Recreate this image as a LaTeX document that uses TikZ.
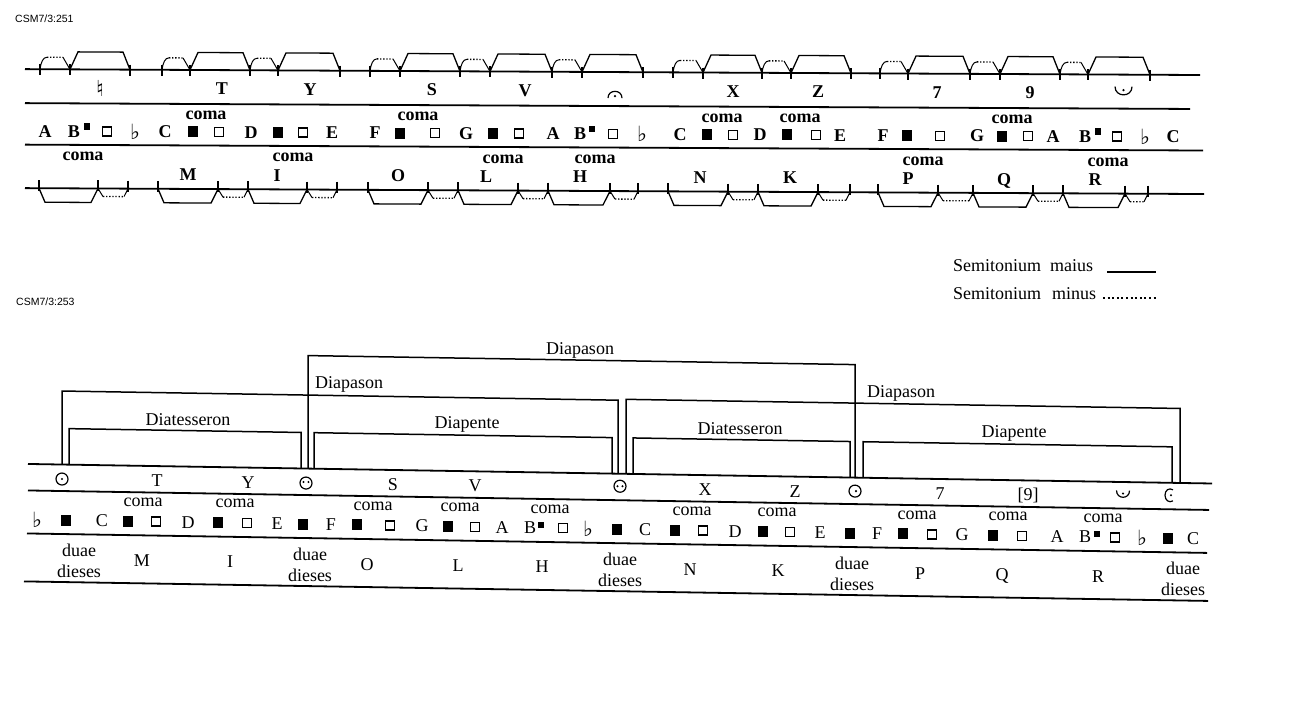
\documentclass[tikz,border=0pt]{standalone}
\usepackage{fontspec}
\setmainfont{Liberation Serif}
\newfontfamily\symfnt{DejaVu Sans}
\newfontfamily\tagfnt{Liberation Sans}
\tikzset{
  rulel/.style={line width=1.8pt},
  tickl/.style={line width=1.5pt},
  majl/.style={line width=1.3pt},
  sidel/.style={line width=1pt},
  minl/.style={line width=1.3pt, dash pattern=on 1.3pt off 1.8pt},
  brk/.style={line width=1.5pt},
  lettr/.style={inner sep=0pt, font=\fontsize{18}{20}\selectfont, text height=12pt, text depth=0pt},
  lettrb/.style={inner sep=0pt, font=\bfseries\fontsize{18}{20}\selectfont, text height=12pt, text depth=0pt},
  comal/.style={inner sep=0pt, font=\fontsize{18}{20}\selectfont, text height=8pt, text depth=0pt},
  comab/.style={inner sep=0pt, font=\bfseries\fontsize{18}{20}\selectfont, text height=8pt, text depth=0pt},
  fsq/.style={fill=black, inner sep=0pt, minimum width=10.5pt, minimum height=11pt},
  osq/.style={draw, line width=1.3pt, inner sep=0pt, minimum size=9pt},
  ssq/.style={fill=black, inner sep=0pt, minimum width=5.5pt, minimum height=6.5pt},
  flat/.style={inner sep=0pt, font=\symfnt\fontsize{21}{22}\selectfont},
  sym/.style={line width=1.2pt},
  tagl/.style={inner sep=0pt, anchor=west, font=\tagfnt\fontsize{10.5}{12}\selectfont},
}
\begin{document}
\begin{tikzpicture}[x=1pt,y=-1pt]
\useasboundingbox (0,0) rectangle (1296,720);
\node[tagl] (tag1) at (15,19) {CSM7/3:251};
\node[tagl] (tag2) at (16,302) {CSM7/3:253};

%================ TOP DIAGRAM =================
\begin{scope}[cm={1,-0.005,0,1,(0,0)}]
\coordinate (ra1) at (25,69);    \coordinate (rb1) at (1200,69);
\coordinate (ra2) at (25,103);   \coordinate (rb2) at (1190,103);
\coordinate (ra3) at (25,144.5); \coordinate (rb3) at (1203,144.5);
\coordinate (ra4) at (25,188);   \coordinate (rb4) at (1204,188);
\foreach \k in {1,...,4} \draw[rulel] (ra\k) -- (rb\k);
% semitonium maius above
\foreach \a/\b in {70/130,190/250,278/340,400/460,490/552,582/643,703/762,791/851,908/970,1000/1060,1088/1150}
  \draw[majl] (\a,69) -- (\a+8,51.5) -- (\b-7,51.5) -- (\b,69);
% semitonium minus above
\foreach \a/\b in {40/70,162/190,250/278,370/400,460/490,552/582,673/703,762/791,880/908,970/1000,1060/1088}
  {\draw[sidel] (\a,69) .. controls (\a+1,62) and (\a+3,57) .. (\a+7,57);
   \draw[minl] (\a+7,57) -- (\b-7,57);
   \draw[sidel] (\b-7,57) -- (\b,69);}
\foreach \x in {40,70,130,162,190,250,278,340,370,400,460,490,552,582,643,673,703,762,791,851,880,908,970,1000,1060,1088,1150}
  \draw[tickl] (\x,64) -- (\x,75);
% semitonium maius below
\foreach \a/\b in {39/98,158/218,248/307,368/428,458/518,548/610,668/728,758/818,878/938,973/1033,1063/1125}
  \draw[majl] (\a,188) -- (\a+6,202) -- (\b-7,202) -- (\b,188);
% semitonium minus below
\foreach \a/\b in {98/128,218/248,307/337,428/458,518/548,610/638,728/758,818/850,938/973,1033/1063,1125/1148}
  {\draw[sidel] (\a,188) -- (\a+5,196);
   \draw[minl] (\a+5,196) -- (\b-4,196);
   \draw[sidel] (\b-4,196) -- (\b,188);}
\foreach \x in {39,98,128,158,218,248,307,337,368,428,458,518,548,610,638,668,728,758,818,850,878,938,973,1033,1063,1125,1148}
  \draw[tickl] (\x,180) -- (\x,191);
% row 1
\node[flat, font=\symfnt\fontsize{22}{23}\selectfont] (tnat) at (100,87.5) {♮};
\foreach \x/\lt [count=\i] in {222/T,310/Y,432/S,525/V,733/X,818/Z,937/7,1030/9}
  \node[lettrb] (tr\i) at (\x,87.5) {\lt};
\draw[sym] (608,95) .. controls (608,86) and (622,86) .. (622,95);
\fill (615,93) circle (1.3);
\draw[sym] (1115,81) .. controls (1115,92) and (1132,92) .. (1132,81);
\fill (1123.5,84.5) circle (1.3);
% coma labels
\foreach \x [count=\i] in {206,418,722,800,1012}
  \node[comab] (tcu\i) at (\x,114.5) {coma};
\foreach \x [count=\i] in {83,293,503,595,923,1108}
  \node[comab] (tcl\i) at (\x,156.5) {coma};
% notes row
\foreach \x/\lt [count=\i] in {45/A,74/B,165/C,251/D,332/E,375/F,466/G,553/A,580/B,680/C,760/D,840/E,883/F,977/G,1053/A,1085/B,1173/C}
  \node[lettrb] (tn\i) at (\x,131) {\lt};
\foreach \x [count=\i] in {193,278,400,493,707,787,907,1002}
  \node[fsq] (tf\i) at (\x,131) {};
\foreach \x [count=\i] in {107,219,303,435,519,613,733,816,940,1028,1117}
  \node[osq] (to\i) at (\x,131) {};
\foreach \x [count=\i] in {135,642,1145}
  \node[flat] (tb\i) at (\x,131) {♭};
\foreach \x [count=\i] in {87,592,1098}
  \node[ssq] (ts\i) at (\x,126) {};
% row 3
\foreach \x/\lt [count=\i] in {188/M,277/I,398/O,486/L,580/H,700/N,790/K,908/P,1004/Q,1095/R}
  \node[lettrb] (tl\i) at (\x,174) {\lt};
\end{scope}

%================ LEGEND =================
\node[lettr, anchor=west] (leg1) at (953,265) {Semitonium\hspace{9pt}maius};
\node[lettr, anchor=west] (leg2) at (953,293) {Semitonium\hspace{11pt}minus};
\coordinate (lg1a) at (1107,272); \coordinate (lg1b) at (1156,272);
\coordinate (lg2a) at (1103,298); \coordinate (lg2b) at (1156,298);
\draw[line width=2pt] (lg1a) -- (lg1b);
\draw[line width=2pt, dash pattern=on 2pt off 2.6pt] (lg2a) -- (lg2b);

%================ BOTTOM DIAGRAM =================
\begin{scope}[cm={1,-0.0165,0,1,(0,0)}]
\coordinate (sa1) at (28,463.5); \coordinate (sb1) at (1212,463.5);
\coordinate (sa2) at (28,490);   \coordinate (sb2) at (1209,490);
\coordinate (sa3) at (27,533);   \coordinate (sb3) at (1207,533);
\coordinate (sa4) at (24,581);   \coordinate (sb4) at (1208,581);
\foreach \k in {1,...,4} \draw[rulel] (sa\k) -- (sb\k);
% brackets
\foreach \l/\r/\h/\nm in {308/855/350.5/bg, 62/618/390/dl, 626/1180/389/dr, 69/301/427.5/t1, 314/612/427.5/p1, 633/850/427.5/t2, 863/1172/427.5/p2}
  {\coordinate (\nm L) at (\l,463.5);
   \coordinate (\nm R) at (\r,463.5);
   \draw[brk] (\nm L) -- (\l,\h) -- (\r,\h) -- (\nm R);}
\node[lettr] (lbg) at (580,338.5) {Diapason};
\node[lettr, anchor=west] (ldl) at (315,377) {Diapason};
\node[lettr, anchor=west] (ldr) at (867,377) {Diapason};
\node[lettr] (lt1) at (188,416) {Diatesseron};
\node[lettr] (lp1) at (467,415) {Diapente};
\node[lettr] (lt2) at (740,416) {Diatesseron};
\node[lettr] (lp2) at (1014,415) {Diapente};
% row 1
\foreach \x/\lt [count=\i] in {157/T,248/Y,393/S,475/V,705/X,795/Z,940/7}
  \node[lettr] (br\i) at (\x,478) {\lt};
\node[lettr] (br9) at (1028,478) {[9]};
\draw[sym] (62,478) circle (6);  \fill (62,478) circle (1.2);
\draw[sym] (306,478) circle (6); \fill (303.5,477) circle (1.1); \fill (308.5,477) circle (1.1);
\draw[sym] (620,476) circle (6); \fill (617.5,476) circle (1.1); \fill (622.5,476) circle (1.1);
\draw[sym] (855,477) circle (6); \fill (856,477) circle (1.2);
\draw[sym] (1116.5,472) .. controls (1116.5,481) and (1129.5,481) .. (1129.5,472);
\fill (1123,475) circle (1.2);
\draw[sym] (1173,470.5) .. controls (1169,468) and (1165,471) .. (1165,476) .. controls (1165,481) and (1169,484) .. (1173,481.5);
\fill (1171,476) circle (1.1);
% coma
\foreach \x [count=\i] in {143,235,373,460,550,692,777,917,1008,1103}
  \node[comal] (bc\i) at (\x,500) {coma};
% notes row
\foreach \x/\lt [count=\i] in {102/C,188/D,277/E,331/F,422/G,502/A,530/B,645/C,735/D,820/E,877/F,962/G,1057/A,1085/B,1193/C}
  \node[lettr] (bn\i) at (\x,519) {\lt};
\foreach \x [count=\i] in {66,128,218,303,357,448,617,675,763,850,903,993,1168}
  \node[fsq] (bf\i) at (\x,519) {};
\foreach \x [count=\i] in {156,247,390,475,563,703,790,932,1022,1115}
  \node[osq] (bo\i) at (\x,519) {};
\foreach \x [count=\i] in {37,588,1142}
  \node[flat] (bb\i) at (\x,519) {♭};
\foreach \x [count=\i] in {541,1097}
  \node[ssq] (bs\i) at (\x,516) {};
% row 3
\foreach \x/\lt [count=\i] in {142/M,230/I,367/O,458/L,542/H,690/N,778/K,920/P,1002/Q,1098/R}
  \node[lettr] (bl\i) at (\x,558) {\lt};
\foreach \x [count=\i] in {79,310,620,852,1183}
  {\node[lettr] (bdu\i) at (\x,549) {duae};
   \node[lettr] (bdi\i) at (\x,570) {dieses};}
\end{scope}
\end{tikzpicture}
\end{document}
